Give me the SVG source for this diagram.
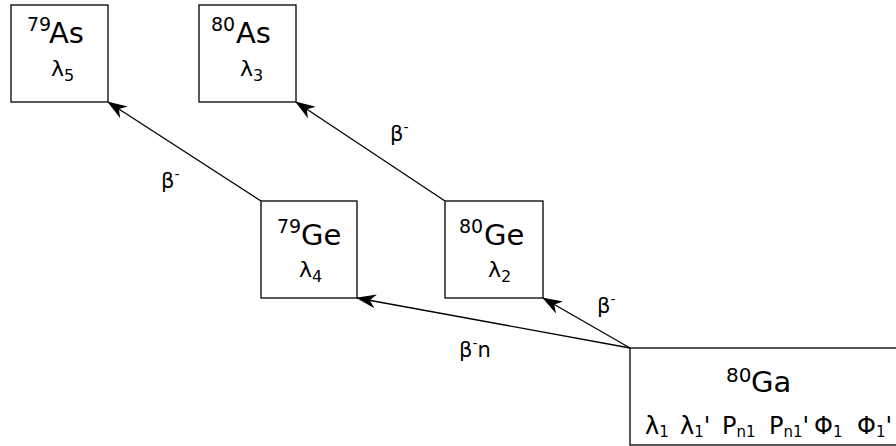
<svg xmlns="http://www.w3.org/2000/svg" width="896" height="446" viewBox="0 0 896 446">
<style>
.box{fill:#fff;stroke:#000;stroke-width:1.3}
.t{font-family:"DejaVu Sans",sans-serif;fill:#000}
.big{font-size:29px}
.sup{font-size:19px}
.lam{font-size:22px}
.ls{font-size:16px}
.gs{font-size:15px}
.lab{font-size:21px}
.labs{font-size:14px}
.edge{stroke:#000;stroke-width:1.3;fill:none;marker-end:url(#ah)}
</style>
<defs>
<marker id="ah" viewBox="0 0 20 14" refX="19" refY="7" markerWidth="20" markerHeight="14" markerUnits="userSpaceOnUse" orient="auto">
<path d="M0,0 L20,7 L0,14 L6,7 z" fill="#000"/>
</marker>
</defs>
<rect width="896" height="446" fill="#fff"/>
<g id="connectors">
<line class="edge" x1="261" y1="201" x2="108" y2="102"/>
<line class="edge" x1="445" y1="201" x2="296" y2="102"/>
<line class="edge" x1="630" y1="348" x2="543" y2="298"/>
<line class="edge" x1="630" y1="348" x2="357" y2="298"/>
<text class="t lab" x="161" y="188">β<tspan class="labs" dy="-9">-</tspan></text>
<text class="t lab" x="390" y="141">β<tspan class="labs" dy="-9">-</tspan></text>
<text class="t lab" x="597" y="313">β<tspan class="labs" dy="-9">-</tspan></text>
<text class="t lab" x="459" y="357">β<tspan class="labs" dy="-9">-</tspan><tspan dy="9">n</tspan></text>
</g>
<g id="As79">
<rect class="box" x="11" y="5" width="97" height="97"/>
<text class="t sup" x="27" y="31">79</text>
<text class="t big" x="49" y="43">As</text>
<text class="t lam" x="51" y="76">λ<tspan class="ls" dy="5">5</tspan></text>
</g>
<g id="As80">
<rect class="box" x="199" y="5" width="97" height="97"/>
<text class="t sup" x="211" y="31">80</text>
<text class="t big" x="236" y="43">As</text>
<text class="t lam" x="240" y="76">λ<tspan class="ls" dy="5">3</tspan></text>
</g>
<g id="Ge79">
<rect class="box" x="261" y="201" width="96" height="97"/>
<text class="t sup" x="277" y="233">79</text>
<text class="t big" x="301" y="245">Ge</text>
<text class="t lam" x="299" y="277">λ<tspan class="ls" dy="5">4</tspan></text>
</g>
<g id="Ge80">
<rect class="box" x="445" y="201" width="98" height="97"/>
<text class="t sup" x="459" y="233">80</text>
<text class="t big" x="484" y="245">Ge</text>
<text class="t lam" x="488" y="277">λ<tspan class="ls" dy="5">2</tspan></text>
</g>
<g id="Ga80">
<rect class="box" x="630" y="348" width="300" height="97"/>
<text class="t" x="726" y="382" style="font-size:20px">80</text>
<text class="t big" x="751" y="392">Ga</text>
<text class="t" style="font-size:24px" y="434"><tspan x="645">λ</tspan><tspan class="gs" dy="3">1</tspan><tspan x="680" dy="-3">λ</tspan><tspan class="gs" dy="3">1</tspan><tspan dy="-3">'</tspan><tspan x="722">P</tspan><tspan class="gs" dy="3">n1</tspan><tspan x="769" dy="-3">P</tspan><tspan class="gs" dy="3">n1</tspan><tspan dy="-3">'</tspan><tspan x="814">Φ</tspan><tspan class="gs" dy="3">1</tspan><tspan x="857" dy="-3">Φ</tspan><tspan class="gs" dy="3">1</tspan><tspan dy="-3">'</tspan></text>
</g>
</svg>
